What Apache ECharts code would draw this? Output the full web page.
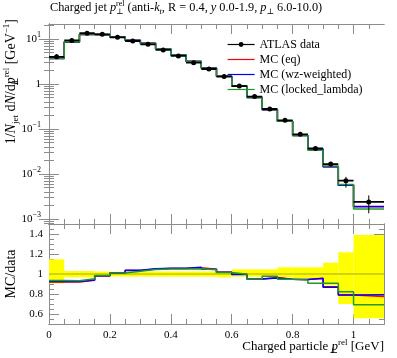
<!DOCTYPE html>
<html><head><meta charset="utf-8">
<script src="https://cdn.jsdelivr.net/npm/echarts@6/dist/echarts.min.js"></script>
<style>html,body{margin:0;padding:0;background:#fff}#c{width:397px;height:358px}</style>
</head><body><div id="c"></div>
<script>
// ---- data ----
const binEdges = [0,0.05,0.1,0.15,0.2,0.25,0.3,0.35,0.4,0.45,0.5,0.55,0.6,0.65,0.7,0.75,0.8,0.85,0.9,0.95,1.0,1.1];
const atlasData = [4.0,9.3,13.4,12.7,10.9,9.0,7.6,5.7,4.2,2.98,2.15,1.46,0.90,0.525,0.278,0.156,0.076,0.037,0.0166,0.0071,0.0024];
const atlasErrUp = [0.147,0.03,0.03,0.025,0.022,0.025,0.025,0.025,0.025,0.025,0.025,0.025,0.047,0.047,0.047,0.067,0.067,0.067,0.113,0.217,0.39];
const atlasErrDown = [0.095,0.033,0.033,0.027,0.025,0.027,0.027,0.027,0.027,0.027,0.027,0.033,0.027,0.027,0.027,0.033,0.04,0.045,0.113,0.30,0.443];
const mcEq = [3.68,8.56,12.56,12.45,11.01,9.315,7.98,6.01,4.43,3.17,2.25,1.485,0.897,0.499,0.268,0.148,0.0718,0.0353,0.0145,0.00561,0.00186];
const mcWz = [3.70,8.60,12.60,12.48,11.01,9.33,8.00,6.03,4.44,3.18,2.25,1.485,0.896,0.499,0.267,0.148,0.0718,0.0354,0.0144,0.00561,0.0019];
const mcLocked = [3.74,8.68,12.76,12.51,11.01,9.24,7.94,5.99,4.41,3.14,2.24,1.482,0.897,0.499,0.272,0.148,0.0714,0.0336,0.01506,0.00584,0.00166];
const seriesNames = ['ATLAS data','MC (eq)','MC (wz-weighted)','MC (locked_lambda)'];
const xTickLabels = [0,0.2,0.4,0.6,0.8,1];
const yMainTickLabels = [0.001,0.01,0.1,1,10];
const yRatioTickLabels = [0.6,0.8,1,1.2,1.4];

// ---- helpers ----
const SERIF = "'Liberation Serif','DejaVu Serif',serif";
const GREY = '#8c8c8c';
const colors = {eq:'#ff0000', wz:'#0000ff', locked:'#229922'};
const X_MIN = 0, X_MAX = 1.1, Y_MIN = 7.74e-4, Y_MAX = 21.5, R_MIN = 0.5, R_MAX = 1.5;

const xMinor = []; for (let i = 1; i <= 21; i++) xMinor.push(+(i*0.05).toFixed(2));
const yMinorLog = []; for (let k = -4; k <= 1; k++) for (let m = 2; m <= 9; m++) { const v = m*Math.pow(10,k); if (v > Y_MIN && v < Y_MAX) yMinorLog.push(v); }
const rMinor = []; for (let i = 11; i <= 29; i++) rMinor.push(+(i*0.05).toFixed(2));

function stepData(vals){ const d = vals.map((v,i)=>[binEdges[i], v]); d.push([binEdges[binEdges.length-1], vals[vals.length-1]]); return d; }
function ratioOf(vals){ return vals.map((v,i)=>v/atlasData[i]); }

const richBase = {
  b:{fontFamily:SERIF,fontSize:11,color:'#000',lineHeight:16},
  sup:{fontFamily:SERIF,fontSize:8,color:'#000',lineHeight:10,verticalAlign:'top'}
};
const txtRich = (fs, ss) => ({
  t:{fontFamily:SERIF,fontSize:fs,fontWeight:'normal',color:'#000',lineHeight:fs+4},
  i:{fontFamily:SERIF,fontSize:fs,fontWeight:'normal',fontStyle:'italic',color:'#000',lineHeight:fs+4},
  sub:{fontFamily:SERIF,fontSize:ss,fontWeight:'normal',color:'#000',lineHeight:ss,verticalAlign:'bottom',width:0},
  subn:{fontFamily:SERIF,fontSize:ss,fontWeight:'normal',color:'#000',lineHeight:ss,verticalAlign:'bottom'},
  subi:{fontFamily:SERIF,fontSize:ss,fontWeight:'normal',fontStyle:'italic',color:'#000',lineHeight:ss,verticalAlign:'bottom'},
  sup:{fontFamily:SERIF,fontSize:ss,fontWeight:'normal',color:'#000',lineHeight:ss,verticalAlign:'top'}
});

function xAx(grid, pos, vals, len, labels){
  return {type:'value', gridIndex:grid, position:pos, min:X_MIN, max:X_MAX,
    axisLine:{show:true,onZero:false,lineStyle:{color:GREY,width:1}},
    axisTick:{show:true,inside:true,length:len,customValues:vals,lineStyle:{color:GREY,width:1}},
    axisLabel: labels ? {show:true,customValues:xTickLabels,margin:6,fontFamily:SERIF,fontSize:11,color:'#000',
      formatter:v=>String(+v.toFixed(2))} : {show:false},
    splitLine:{show:false}};
}
function yLog(pos, vals, len, labels){
  return {type:'log', logBase:10, gridIndex:0, position:pos, min:Y_MIN, max:Y_MAX,
    axisLine:{show:true,lineStyle:{color:GREY,width:1}},
    axisTick:{show:true,inside:true,length:len,customValues:vals,lineStyle:{color:GREY,width:1}},
    axisLabel: labels ? {show:true,customValues:yMainTickLabels,margin:8,rich:richBase,
      formatter:v=>{const e=Math.round(Math.log10(v)); if(e===0) return '{b|1}'; return '{b|10}{sup|'+(e<0?'\u2212'+(-e):e)+'}';}} : {show:false},
    splitLine:{show:false}, minorSplitLine:{show:false}};
}
function yRat(pos, vals, len, labels){
  return {type:'value', gridIndex:1, position:pos, min:R_MIN, max:R_MAX,
    axisLine:{show:true,onZero:false,lineStyle:{color:GREY,width:1}},
    axisTick:{show:true,inside:true,length:len,customValues:vals,lineStyle:{color:GREY,width:1}},
    axisLabel: labels ? {show:true,customValues:yRatioTickLabels,margin:6,fontFamily:SERIF,fontSize:11,color:'#000',
      formatter:v=>String(+v.toFixed(2))} : {show:false},
    splitLine:{show:false}};
}

const dataBars = [];
atlasData.forEach((v,i)=>{ const lo=binEdges[i], hi=binEdges[i+1];
  dataBars.push({value:[lo,v],symbol:'none'}); dataBars.push({value:[(lo+hi)/2,v]});
  dataBars.push({value:[hi,v],symbol:'none'}); dataBars.push({value:[hi,'-'],symbol:'none'}); });
const dataErr = [];
atlasData.forEach((v,i)=>{ const c=(binEdges[i]+binEdges[i+1])/2;
  dataErr.push([c, v*(1-atlasErrDown[i])], [c, v*(1+atlasErrUp[i])], [c,'-']); });
const band = atlasData.map((v,i)=>[binEdges[i], binEdges[i+1], 1-atlasErrDown[i], 1+atlasErrUp[i]]);

function mcLine(name, vals, color, xi, yi, z){
  return {name, type:'line', step:'end', xAxisIndex:xi, yAxisIndex:yi, data:stepData(vals), symbol:'none',
    lineStyle:{color, width:1.5}, itemStyle:{color}, z, animation:false, clip:true};
}

const chart = echarts.init(document.getElementById('c'), null, {renderer:'canvas'});
chart.setOption({
  animation:false,
  backgroundColor:'#fff',
  title:{left:50, top:0, padding:0,
    text:'{t|Charged jet }{i|p}{sub|\u22a5}{sup|rel}{t| (anti-}{i|k}{subi|t}{t|, R = 0.4, }{i|y}{t| 0.0-1.9, }{i|p}{subn|\u22a5}{t| 6.0-10.0)}',
    textStyle:{fontWeight:'normal', rich:txtRich(12.3, 8)}},
  legend:{data:[
      {name:seriesNames[0]},
      {name:seriesNames[1], itemStyle:{opacity:0}},
      {name:seriesNames[2], itemStyle:{opacity:0}},
      {name:seriesNames[3], itemStyle:{opacity:0}}],
    orient:'vertical', left:227, top:37, padding:0, itemWidth:27, itemHeight:6, itemGap:0,
    lineStyle:{width:1.2},
    selectedMode:false, textStyle:{fontFamily:SERIF,fontSize:12,color:'#000',lineHeight:15}},
  grid:[{left:49, top:24, width:335, height:200},{left:49, top:224, width:335, height:100}],
  xAxis:[
    xAx(0,'bottom',xTickLabels,10,false), xAx(0,'bottom',xMinor,5,false),
    xAx(0,'top',xTickLabels,10,false), xAx(0,'top',xMinor,5,false),
    xAx(1,'bottom',xTickLabels,10,true), xAx(1,'bottom',xMinor,5,false),
    xAx(1,'top',xTickLabels,10,false), xAx(1,'top',xMinor,5,false)
  ],
  yAxis:[
    yLog('left',yMainTickLabels,10,true), yLog('left',yMinorLog,5,false),
    yLog('right',yMainTickLabels,10,false), yLog('right',yMinorLog,5,false),
    yRat('left',yRatioTickLabels,10,true), yRat('left',rMinor,5,false),
    yRat('right',yRatioTickLabels,10,false), yRat('right',rMinor,5,false)
  ],
  graphic:[
    {type:'text', x:11, y:19, rotation:Math.PI/2, style:{align:'right', verticalAlign:'middle',
      text:'{t|1/}{i|N}{subn|jet}{t| d}{i|N}{t|/d}{i|p}{sub|\u22a5}{sup|rel}{t| [GeV}{sup|\u22121}{t|]}', rich:txtRich(14, 9)}},
    {type:'text', x:11, y:274, rotation:Math.PI/2, style:{align:'center', verticalAlign:'middle',
      text:'{t|MC/data}', rich:txtRich(14, 9)}},
    {type:'text', x:384, y:347, style:{align:'right', verticalAlign:'middle',
      text:'{t|Charged particle }{i|p}{sub|\u22a5}{sup|rel}{t| [GeV]}', rich:txtRich(13, 9)}}
  ],
  series:[
    mcLine('MC (eq)', mcEq, colors.eq, 0, 0, 2),
    mcLine('MC (wz-weighted)', mcWz, colors.wz, 0, 0, 3),
    mcLine('MC (locked_lambda)', mcLocked, colors.locked, 0, 0, 4),
    {name:'ATLAS data', type:'line', xAxisIndex:0, yAxisIndex:0, data:dataBars, symbol:'circle', symbolSize:5,
      showSymbol:true, connectNulls:false, lineStyle:{color:'#000', width:1.8}, itemStyle:{color:'#000'}, z:6, clip:true},
    {name:'err', type:'line', xAxisIndex:0, yAxisIndex:0, data:dataErr, symbol:'none', connectNulls:false,
      lineStyle:{color:'#000', width:1}, z:5, clip:true},
    {name:'band', type:'custom', xAxisIndex:4, yAxisIndex:4, data:band, clip:true, z:1,
      encode:{x:[0,1], y:[2,3]},
      renderItem:(params, api)=>{ const p1=api.coord([api.value(0), api.value(3)]); const p2=api.coord([api.value(1), api.value(2)]);
        return {type:'rect', shape:{x:p1[0], y:p1[1], width:p2[0]-p1[0], height:p2[1]-p1[1]}, style:{fill:'#ffff00'}}; }},
    {name:'ref', type:'line', xAxisIndex:4, yAxisIndex:4, data:[[X_MIN,1],[X_MAX,1]], symbol:'none',
      lineStyle:{color:'#a8a800', width:1}, z:2},
    mcLine('r eq', ratioOf(mcEq), colors.eq, 4, 4, 3),
    mcLine('r wz', ratioOf(mcWz), colors.wz, 4, 4, 4),
    mcLine('r locked', ratioOf(mcLocked), colors.locked, 4, 4, 5)
  ]
});
</script></body></html>
